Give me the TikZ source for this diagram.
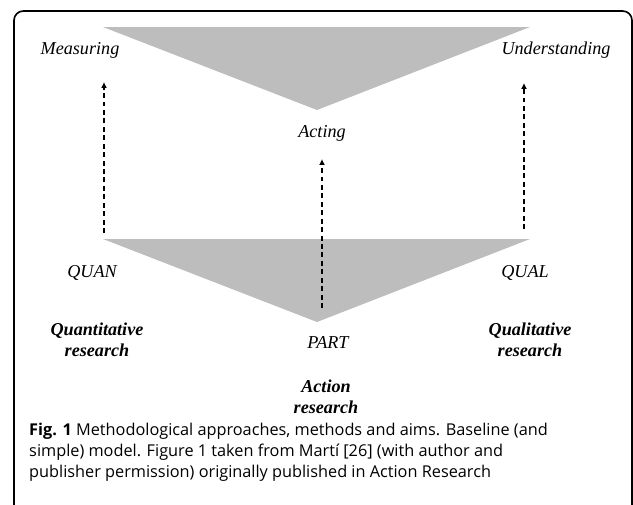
\documentclass[tikz,border=0pt]{standalone}
\usepackage{fontspec}
\setmainfont{Liberation Serif}
\newfontfamily\capfont{Open Sans}
\usepackage{tikz}
\usetikzlibrary{
        arrows.meta,
        positioning
    }

\begin{document}
\begin{tikzpicture}
[x=0.03cm, y=-0.03cm,
aim/.style={font=\fontsize{15.5}{18}\selectfont\itshape, align=center, inner sep=0pt},
method/.style={font=\fontsize{15.5}{18}\selectfont\itshape, align=center, inner sep=0pt},
approach/.style={font=\fontsize{15.5}{18}\selectfont\bfseries\itshape, align=center, inner sep=0pt},
wedge/.style={fill=black!26, draw=none},
arrow/.style={line width=1.2pt, dash pattern=on 4.2pt off 3pt, -{Latex[length=5pt, width=5pt]}},
frame/.style={draw=black, line width=1.4pt, rounded corners=8pt},
caption/.style={font=\capfont\fontsize{13.9}{17.9}\selectfont, align=left, anchor=north west, inner sep=0pt},]
\useasboundingbox (0,0) rectangle (633,505);
\clip (0,0) rectangle (633,505);
\draw [frame] (14,11) rectangle (632,560);

% aims
\fill [wedge] (103,27) -- (530,27) -- (317,110) -- cycle;
\node (measuring) [aim] at (80,50){Measuring};
\node (understanding) [aim] at (556,50){Understanding};
\node (acting) [aim] at (322,133){Acting};

% methods
\fill [wedge] (103,239) -- (530,239) -- (317,322) -- cycle;
\node (quan) [method] at (92,273){QUAN};
\node (qual) [method] at (525,273){QUAL};
\node (part) [method] at (328,343){PART};

% approaches
\node (quantitative) [approach] at (97,340){Quantitative\\research};
\node (qualitative) [approach] at (530,340){Qualitative\\research};
\node (action) [approach] at (326,397){Action\\research};

\coordinate (quanfoot) at (104,233);
\coordinate (quantip) at (104,82);
\coordinate (qualfoot) at (524,229);
\coordinate (qualtip) at (524,83);
\coordinate (partfoot) at (322,308);
\coordinate (parttip) at (322,159);

\draw [arrow] (quanfoot) -- (quantip);
\draw [arrow] (qualfoot) -- (qualtip);
\draw [arrow] (partfoot) -- (parttip);

\node (fig) [caption] at (29,423){\textbf{Fig. 1} Methodological approaches, methods and aims. Baseline (and\\
simple) model. Figure 1 taken from Martí [26] (with author and\\
publisher permission) originally published in Action Research};

\end{tikzpicture}
\end{document}
